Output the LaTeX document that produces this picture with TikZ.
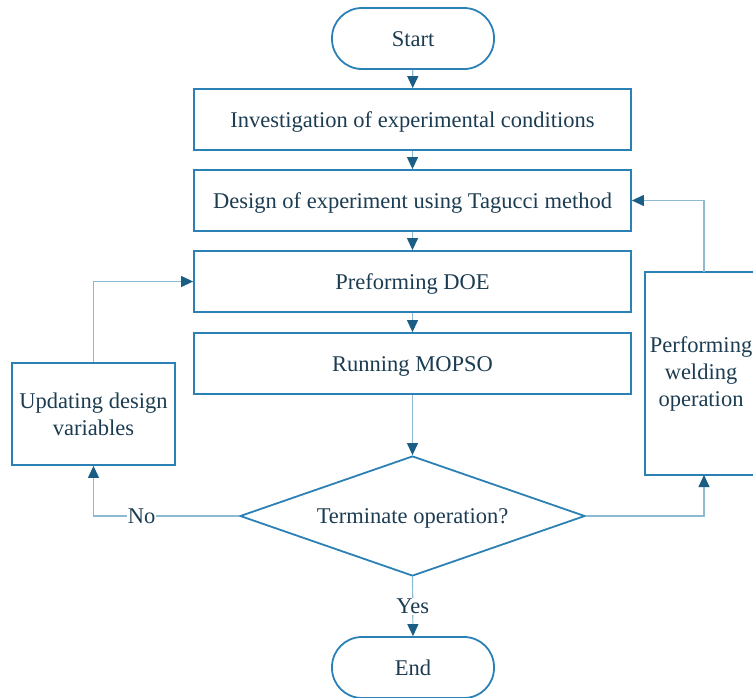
\documentclass[tikz,border=0pt]{standalone}
\usepackage{fontspec}
\setmainfont{Liberation Serif}
\newfontfamily\diagfont{Liberation Serif}
\usetikzlibrary{shapes.geometric,arrows.meta}
\definecolor{bord}{HTML}{2B80B6}
\definecolor{conn}{HTML}{8DBAD3}
\definecolor{tip}{HTML}{1B5E85}
\definecolor{txt}{HTML}{1C3C52}
\begin{document}
\begin{tikzpicture}[x=1pt,y=-1pt,
  every node/.style={text=txt,font=\diagfont\fontsize{22.5}{27}\selectfont},
  oneline/.style={text height=15pt,text depth=0pt},
  procbox/.style={oneline,draw=bord,line width=1.8pt,rectangle,minimum width=437pt,minimum height=61pt,inner sep=0pt},
  sidebox/.style={draw=bord,line width=1.8pt,rectangle,inner sep=0pt,align=center},
  term/.style={oneline,draw=bord,line width=1.8pt,rectangle,rounded corners=30pt,minimum width=162pt,minimum height=61pt,inner sep=0pt},
  decision/.style={oneline,draw=bord,line width=1.8pt,diamond,minimum width=345pt,minimum height=120pt,aspect=2.875,inner sep=0pt},
  conn/.style={draw=conn,line width=1.2pt,-{Triangle[length=12pt,width=11pt,color=tip,fill=tip]}},
  lbl/.style={fill=white,inner sep=1pt}]
\useasboundingbox (0,0) rectangle (753,697);
\clip (0,0) rectangle (753,697);
\node[term] (start) at (413,38.5) {Start};
\node[procbox] (b1) at (412.5,119.5) {Investigation of experimental conditions};
\node[procbox] (b2) at (412.5,200.5) {Design of experiment using Tagucci method};
\node[procbox] (b3) at (412.5,281.5) {Preforming DOE};
\node[procbox] (b4) at (412.5,363.5) {Running MOPSO};
\node[decision] (dec) at (412.5,516) {Terminate operation?};
\node[term] (end) at (413,667.5) {End};
\node[sidebox,minimum width=163pt,minimum height=102pt] (upd) at (93.5,414) {Updating design\\variables};
\node[sidebox,minimum width=112pt,minimum height=203pt] (weld) at (701,373.5) {Performing\\welding\\operation};
\coordinate (wtop) at (704,272);
\coordinate (wbot) at (704,475);
\draw[conn] (start) -- (b1);
\draw[conn] (b1) -- (b2);
\draw[conn] (b2) -- (b3);
\draw[conn] (b3) -- (b4);
\draw[conn] (b4) -- (dec);
\draw[conn] (dec.west) -- (93.5,516) node[pos=0.67,lbl] {No} -- (upd.south);
\draw[conn] (upd.north) |- (b3.west);
\draw[conn] (dec.east) -| (wbot);
\draw[conn] (wtop) |- (b2.east);
\draw[conn] (dec.south) -- (end.north) node[midway,lbl] {Yes};
\end{tikzpicture}
\end{document}
